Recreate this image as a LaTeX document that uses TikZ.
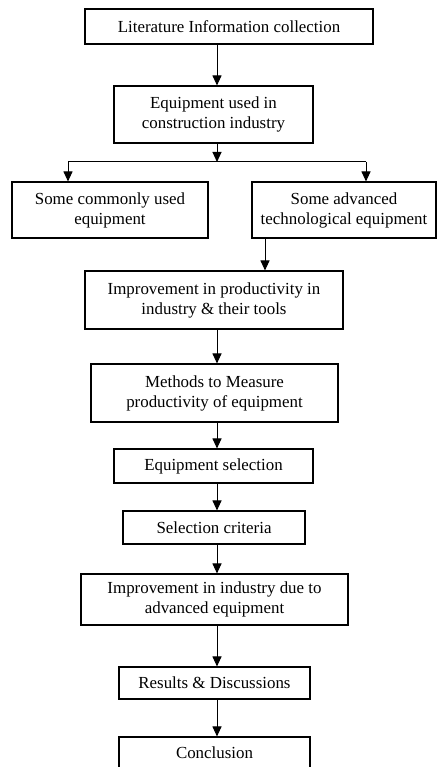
\documentclass[tikz,border=0pt]{standalone}
\usepackage{fontspec}
\setmainfont{Liberation Serif}
\usetikzlibrary{arrows.meta}
\begin{document}
\begin{tikzpicture}[x=1pt,y=-1pt,
  box/.style={draw, line width=1.1pt, rectangle, inner sep=0pt, align=center,
    font=\fontsize{16.9}{20}\selectfont},
  arr/.style={line width=1pt, -{Triangle[width=9pt,length=10pt]}},
  ln/.style={line width=1pt}]
\useasboundingbox (0,0) rectangle (437,767);
\node[box, minimum width=288pt, minimum height=35pt] (b1) at (229,26.5) {Literature Information collection};
\node[box, minimum width=199pt, minimum height=57pt] (b2) at (213.5,114.5) {Equipment used in\\construction industry};
\node[box, minimum width=196pt, minimum height=56pt] (b3) at (110,210) {Some commonly used\\equipment};
\node[box, minimum width=184pt, minimum height=56pt] (b4) at (344,210) {Some advanced\\technological equipment};
\node[box, minimum width=258pt, minimum height=58pt] (b5) at (214,300) {Improvement in productivity in\\industry \& their tools};
\node[box, minimum width=247pt, minimum height=58pt] (b6) at (214.5,393) {Methods to Measure\\productivity of equipment};
\node[box, minimum width=199pt, minimum height=34pt] (b7) at (213.5,466) {Equipment selection};
\node[box, minimum width=182pt, minimum height=33pt] (b8) at (214,527.5) {Selection criteria};
\node[box, minimum width=267pt, minimum height=51pt] (b9) at (214.5,599.5) {Improvement in industry due to\\advanced equipment};
\node[box, minimum width=191pt, minimum height=32pt] (b10) at (214.5,683) {Results \& Discussions};
\node[box, minimum width=191pt, minimum height=36pt, text depth=0pt] (b11) at (214.5,755) {\raisebox{4pt}{Conclusion}};
\coordinate (ax) at (217,0);
\coordinate (bx) at (265,0);
\coordinate (br) at (217,162);
\coordinate (bl) at (68,162);
\coordinate (brr) at (366,162);
\draw[arr] (b1.south -| ax) -- (b2.north -| ax);
\draw[arr] (b2.south -| ax) -- (br);
\draw[ln] (bl) -- (brr);
\draw[arr] (bl) -- (b3.north -| bl);
\draw[arr] (brr) -- (b4.north -| brr);
\draw[arr] (b4.south -| bx) -- (b5.north -| bx);
\draw[arr] (b5.south -| ax) -- (b6.north -| ax);
\draw[arr] (b6.south -| ax) -- (b7.north -| ax);
\draw[arr] (b7.south -| ax) -- (b8.north -| ax);
\draw[arr] (b8.south -| ax) -- (b9.north -| ax);
\draw[arr] (b9.south -| ax) -- (b10.north -| ax);
\draw[arr] (b10.south -| ax) -- (b11.north -| ax);
\end{tikzpicture}
\end{document}
